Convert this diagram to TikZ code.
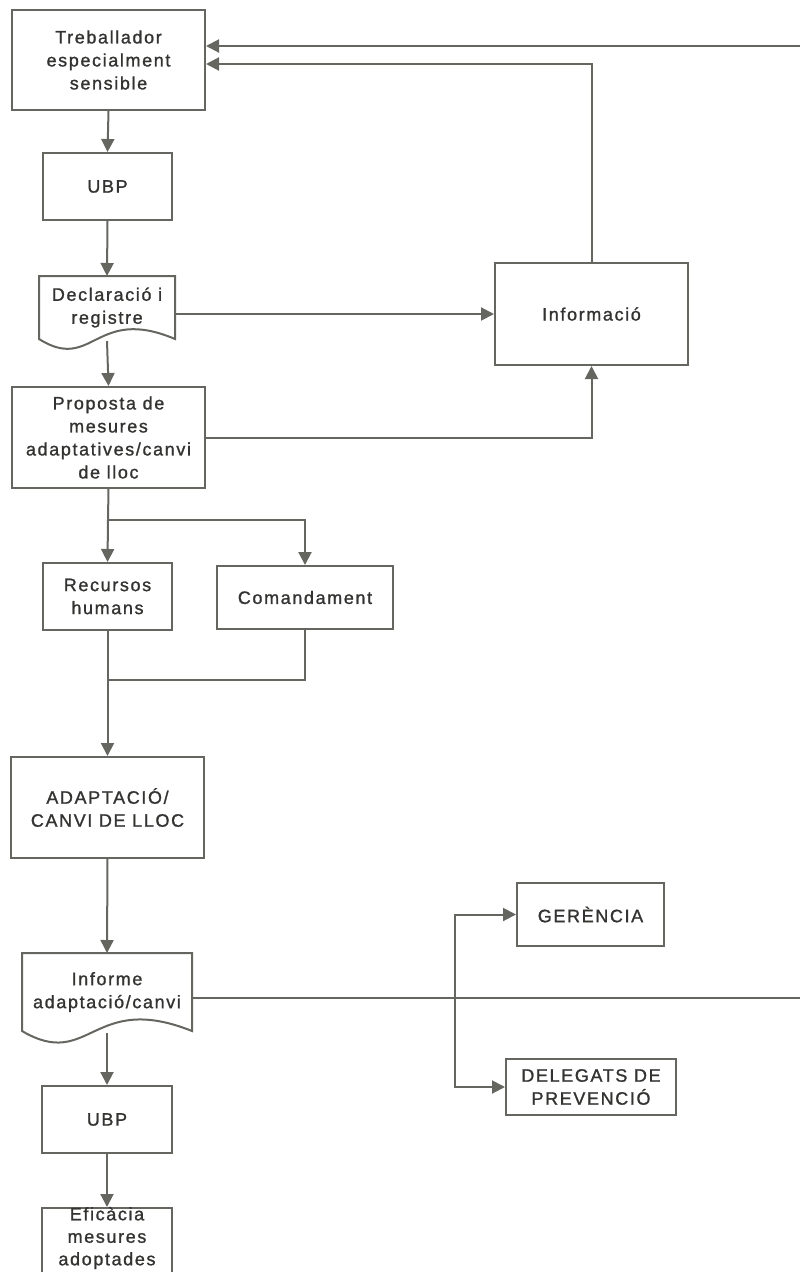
\documentclass[tikz,border=0pt]{standalone}
\usepackage{fontspec}
\setmainfont{Liberation Sans}[LetterSpace=9,FakeBold=1.2]
\usetikzlibrary{arrows.meta,calc}
\definecolor{ln}{HTML}{666660}
\definecolor{tx}{HTML}{333331}
\tikzset{
  box/.style={draw=ln, line width=2pt, rectangle, align=center, text=tx, inner sep=0pt,
    font=\fontsize{18}{23}\selectfont},
  docbox/.style={box, draw=none},
  lbl/.style={align=center, text=tx, inner sep=0pt, font=\fontsize{18}{22.5}\selectfont},
  arr/.style={draw=ln, line width=2pt, -{Triangle[length=13pt,width=13pt]}},
  ln/.style={draw=ln, line width=2pt},
}
\begin{document}
\begin{tikzpicture}[x=1pt,y=-1pt]
\useasboundingbox (0,0) rectangle (800,1272);
% nodes
\node[box, minimum width=193pt, minimum height=100pt] (t) at (108.5,60) {Treballador\\especialment\\sensible};
\node[box, minimum width=129pt, minimum height=67pt] (u1) at (107.5,186.5) {UBP};
\node[docbox, minimum width=134pt, minimum height=61pt] (d) at (107,307.5) {Declaració i\\registre};
\node[box, minimum width=193pt, minimum height=102pt] (info) at (591.5,314) {Informació};
\node[box, minimum width=193pt, minimum height=101pt] (p) at (108.5,437.5) {Proposta de\\mesures\\adaptatives/canvi\\de lloc};
\node[box, minimum width=129pt, minimum height=67pt] (rh) at (107.5,596.5) {Recursos\\humans};
\node[box, minimum width=176pt, minimum height=63pt] (com) at (305,597.5) {Comandament};
\node[box, minimum width=193pt, minimum height=101pt] (ad) at (107.5,807.5) {ADAPTACIÓ/\\CANVI DE LLOC};
\node[docbox, minimum width=168pt, minimum height=76pt] (inf) at (107,992) {Informe\\adaptació/canvi};
\node[box, minimum width=130pt, minimum height=67pt] (u2) at (107,1119.5) {UBP};
\node[box, minimum width=147pt, minimum height=63pt] (ger) at (590.5,914.5) {GERÈNCIA};
\node[box, minimum width=170pt, minimum height=56pt] (del) at (591,1087) {DELEGATS DE\\PREVENCIÓ};
\node[box, minimum width=130pt, minimum height=84pt] (ef) at (107,1250) {};
\node[lbl] (eft) at (107,1238) {Eficàcia\\mesures\\adoptades};
% document outlines
\draw[ln] (d.south west) -- (d.north west) -- (d.north east) -- (d.south east)
  .. controls ($(d.south east)+(-80,-34)$) and ($(d.south west)+(54,34)$) .. (d.south west) -- cycle;
\draw[ln] (inf.south west) -- (inf.north west) -- (inf.north east) -- (inf.south east)
  .. controls ($(inf.south east)+(-100,-40)$) and ($(inf.south west)+(68,40)$) .. (inf.south west) -- cycle;
% coordinates
\coordinate (rt) at (800,46);
\coordinate (sp) at (108,520);
\coordinate (jn) at (108,680);
\coordinate (re) at (800,998);
\coordinate (br) at (455,998);
% connectors
\draw[arr] (rt) -- (rt -| t.east);
\draw[arr] (info.north) |- ([yshift=-4pt]t.east);
\draw[arr] (t.south) -- (u1.north);
\draw[arr] (u1.south) -- (d.north);
\draw[arr] (info.west -| d.east) -- (info.west);
\draw[arr] ([yshift=-2pt]d.south) -- (p.north);
\draw[arr] (p.east) -| (info.south);
\draw[ln] (p.south) -- (sp);
\draw[arr] (sp) -- (rh.north);
\draw[arr] (sp) -| (com.north);
\draw[arr] (rh.south) -- (ad.north);
\draw[ln] (com.south) |- (jn);
\draw[arr] (ad.south) -- (inf.north);
\draw[ln] (re -| inf.east) -- (re);
\draw[arr] (br) |- (ger.west);
\draw[arr] (br) |- (del.west);
\draw[arr] ([yshift=-2pt]inf.south) -- (u2.north);
\draw[arr] (u2.south) -- (ef.north);
\end{tikzpicture}
\end{document}
